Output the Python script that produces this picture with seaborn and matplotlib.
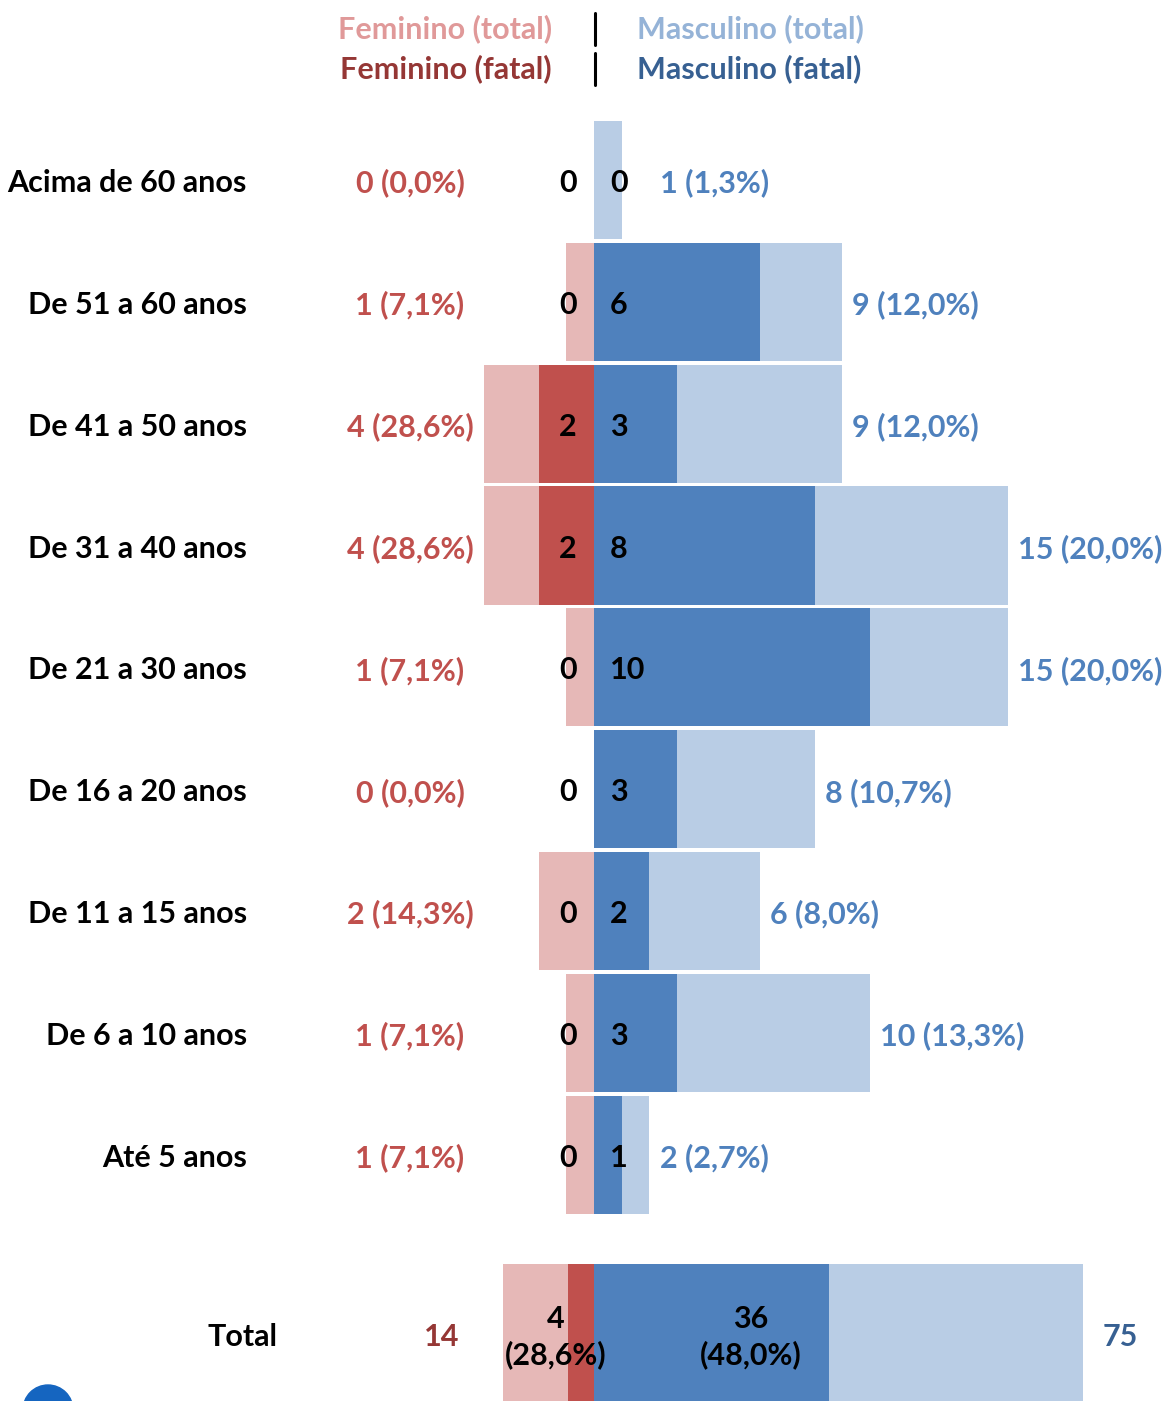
import matplotlib
matplotlib.use("Agg")
import matplotlib.pyplot as plt
import seaborn as sns
import pandas as pd
from matplotlib.lines import Line2D
from matplotlib.patches import Ellipse

categories = ["Acima de 60 anos", "De 51 a 60 anos", "De 41 a 50 anos",
              "De 31 a 40 anos", "De 21 a 30 anos", "De 16 a 20 anos",
              "De 11 a 15 anos", "De 6 a 10 anos", "Até 5 anos"]
fem_total = [0, 1, 4, 4, 1, 0, 2, 1, 1]
fem_fatal = [0, 0, 2, 2, 0, 0, 0, 0, 0]
masc_total = [1, 9, 9, 15, 15, 8, 6, 10, 2]
masc_fatal = [0, 6, 3, 8, 10, 3, 2, 3, 1]

sum_fem_total = 14
sum_fem_fatal = 4
sum_masc_total = 75
sum_masc_fatal = 36

C_FEM_TOT = "#E6B8B7"
C_FEM_FAT = "#C0504D"
C_MASC_FAT = "#4F81BD"
C_MASC_TOT = "#B9CDE5"

W, H = 1162, 1401


def pct(v, tot):
    return f"{v / tot * 100:.1f}%".replace(".", ",")


sns.set_theme(style="white")
plt.rcParams["font.family"] = ["Lato", "DejaVu Sans"]
plt.rcParams["font.weight"] = "bold"
FS = 22
DY = 0.025  # small downward nudge of labels (rows)

df = pd.DataFrame({
    "faixa": categories,
    "fem_total": [-v for v in fem_total],
    "fem_fatal": [-v for v in fem_fatal],
    "masc_total": masc_total,
    "masc_fatal": masc_fatal,
})

fig = plt.figure(figsize=(W / 100, H / 100), dpi=100)

# main panel (age groups)
ax = fig.add_axes([0, 161 / H, 1, 1240 / H])
px_unit = 27.6
for col, c in [("fem_total", C_FEM_TOT), ("fem_fatal", C_FEM_FAT),
               ("masc_total", C_MASC_TOT), ("masc_fatal", C_MASC_FAT)]:
    sns.barplot(data=df, x=col, y="faixa", orient="h", color=c,
                width=0.97, linewidth=0, saturation=1, ax=ax)
ax.set_xlim(-594 / px_unit, (W - 594) / px_unit)
row_h = 121.85
ax.set_ylim((1240 - 180) / row_h, -180 / row_h)
ax.axis("off")

for i, cat in enumerate(categories):
    y = i + DY
    ax.text((247 - 594) / px_unit, y, cat, ha="right", va="center",
            fontsize=FS, color="black")
    ax.text((410 - 594) / px_unit, y,
            f"{fem_total[i]} ({pct(fem_total[i], sum_fem_total)})",
            ha="center", va="center", fontsize=FS, color=C_FEM_FAT)
    ax.text(-0.94, y, str(fem_fatal[i]), ha="center", va="center",
            fontsize=FS, color="black")
    ax.text(0.58, y, str(masc_fatal[i]), ha="left", va="center",
            fontsize=FS, color="black")
    ax.text(max(masc_total[i] + 0.36, 2.4), y,
            f"{masc_total[i]} ({pct(masc_total[i], sum_masc_total)})",
            ha="left", va="center", fontsize=FS, color=C_MASC_FAT)

# total panel
ax2 = fig.add_axes([0, 0, 1, 161 / H])
dft = pd.DataFrame({"faixa": ["Total"],
                    "fem_total": [-sum_fem_total], "fem_fatal": [-sum_fem_fatal],
                    "masc_total": [sum_masc_total], "masc_fatal": [sum_masc_fatal]})
for col, c in [("fem_total", C_FEM_TOT), ("fem_fatal", C_FEM_FAT),
               ("masc_total", C_MASC_TOT), ("masc_fatal", C_MASC_FAT)]:
    sns.barplot(data=dft, x=col, y="faixa", orient="h", color=c,
                width=1.0, linewidth=0, saturation=1, ax=ax2)
t_unit = 6.52
ax2.set_xlim(-594 / t_unit, (W - 594) / t_unit)
ax2.set_ylim(0.5 - 3 / 140, -0.5 - 24 / 140)
ax2.axis("off")
ty = 0.02
ax2.text((243 - 594) / t_unit, ty, "Total", ha="center", va="center",
         fontsize=FS, color="black")
ax2.text((442 - 594) / t_unit, ty, str(sum_fem_total), ha="center", va="center",
         fontsize=FS, color="#953735")
ax2.text((556 - 594) / t_unit, ty,
         f"{sum_fem_fatal}\n({pct(sum_fem_fatal, sum_fem_total)})",
         ha="center", va="center", fontsize=FS, color="black", linespacing=1.3)
ax2.text((751 - 594) / t_unit, ty,
         f"{sum_masc_fatal}\n({pct(sum_masc_fatal, sum_masc_total)})",
         ha="center", va="center", fontsize=FS, color="black", linespacing=1.3)
ax2.text((1120 - 594) / t_unit, ty, str(sum_masc_total), ha="center", va="center",
         fontsize=FS, color="#376092")

# legend header
fig.text(552 / W, 1 - 29 / H, "Feminino (total)", ha="right", va="center",
         fontsize=FS, color="#E09999")
fig.text(552 / W, 1 - 69 / H, "Feminino (fatal)", ha="right", va="center",
         fontsize=FS, color="#953735")
fig.text(637 / W, 1 - 29 / H, "Masculino (total)", ha="left", va="center",
         fontsize=FS, color="#95B3D7")
fig.text(637 / W, 1 - 69 / H, "Masculino (fatal)", ha="left", va="center",
         fontsize=FS, color="#376092")
for y0, y1 in [(13, 45), (53, 85)]:
    fig.add_artist(Line2D([595 / W, 595 / W], [1 - y0 / H, 1 - y1 / H],
                          color="black", lw=2.2))

# partial logo at bottom-left
fig.add_artist(Ellipse((48 / W, 1 - 1410 / H), 50 / W, 50 / H,
                       transform=fig.transFigure, color="#1565C0"))

fig.savefig("out.png", dpi=100)
